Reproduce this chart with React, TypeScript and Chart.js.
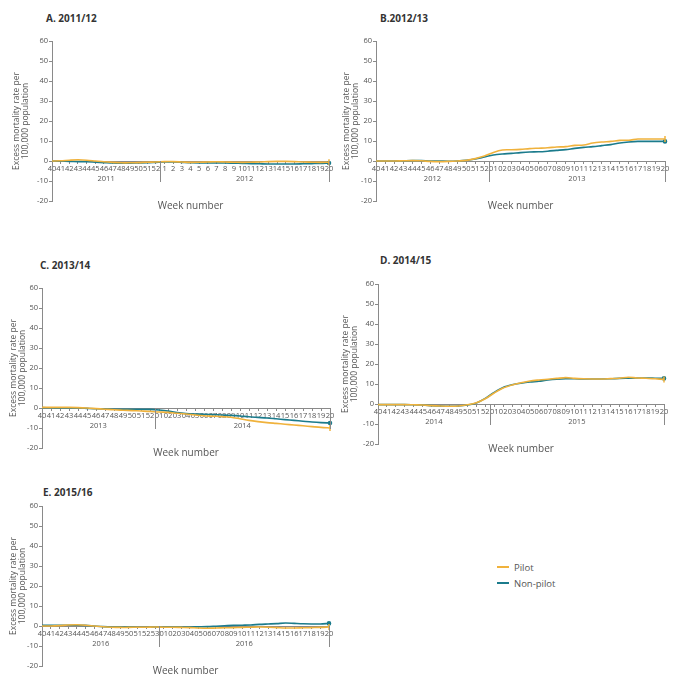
import React, { useEffect, useRef } from 'react';
import { Chart, registerables } from 'chart.js';
Chart.register(...registerables);

const PILOT_COLOR = '#F0B23C';
const NONPILOT_COLOR = '#1B7B8C';
const AXIS = '#8a8a8a';
const TXT = '#555555';
const FONT = '"Open Sans", "Liberation Sans", sans-serif';

const weeksA = ['40','41','42','43','44','45','46','47','48','49','50','51','52','1','2','3','4','5','6','7','8','9','10','11','12','13','14','15','16','17','18','19','20'];
const weeksB = ['40','41','42','43','44','45','46','47','48','49','50','51','52','01','02','03','04','05','06','07','08','09','10','11','12','13','14','15','16','17','18','19','20'];
const weeksC = ['40','41','42','43','44','45','46','47','48','49','50','51','52','01','02','03','04','05','06','07','08','09','10','11','12','13','14','15','16','17','18','19','20'];
const weeksD = ['40','41','42','43','44','45','46','47','48','49','50','51','52','01','02','03','04','05','06','07','08','09','10','11','12','13','14','15','16','17','18','19','20'];
const weeksE = ['40','41','42','43','44','45','46','47','48','49','50','51','52','53','01','02','03','04','05','06','07','08','09','10','11','12','13','14','15','16','17','18','19','20'];

const yearsA = ['2011', '2012'];
const yearsB = ['2012', '2013'];
const yearsC = ['2013', '2014'];
const yearsD = ['2014', '2015'];
const yearsE = ['2016', '2016'];

const pilotA = [0, 0.1, 0.4, 0.6, 0.4, 0, -0.4, -0.7, -0.9, -0.9, -0.8, -0.6, -0.5, -0.3, -0.3, -0.5, -0.7, -0.6, -0.5, -0.4, -0.5, -0.6, -0.7, -0.6, -0.5, -0.3, -0.2, -0.2, -0.3, -0.5, -0.6, -0.7, -0.6];
const nonPilotA = [0, -0.1, -0.2, -0.3, -0.4, -0.6, -0.8, -1, -1.1, -1.1, -1, -0.9, -0.7, -0.5, -0.5, -0.7, -0.9, -1, -1, -1, -1, -1.1, -1.2, -1.3, -1.4, -1.5, -1.5, -1.5, -1.5, -1.4, -1.3, -1.2, -1];

const pilotB = [0, 0, 0, 0.1, 0.2, 0.1, -0.2, -0.3, -0.2, 0, 0.3, 1.2, 2.5, 4.3, 5.5, 5.6, 5.8, 6.2, 6.4, 6.6, 7, 7.2, 7.8, 8, 9, 9.5, 9.8, 10.3, 10.4, 11, 11, 11, 11];
const nonPilotB = [0, 0, 0, 0.1, 0.2, 0.2, 0, 0, -0.1, 0, 0.3, 1, 2, 3, 3.5, 3.8, 4.2, 4.5, 4.6, 4.9, 5.3, 5.7, 6.3, 6.8, 7.2, 7.7, 8.2, 9, 9.5, 9.8, 9.8, 9.8, 9.8];

const pilotC = [0.3, 0.3, 0.3, 0.3, 0.2, 0, -0.3, -0.6, -0.9, -1.1, -1.3, -1.5, -1.7, -2, -2.2, -2.6, -3, -3.5, -3.9, -4.1, -4.3, -4.6, -5.4, -6.2, -6.8, -7.3, -7.7, -8.1, -8.5, -8.9, -9.3, -9.7, -10];
const nonPilotC = [0.2, 0.1, 0, 0, 0, -0.2, -0.4, -0.5, -0.6, -0.6, -0.6, -0.6, -0.7, -1, -1.5, -2.3, -2.8, -3, -3.1, -3.3, -3.5, -3.7, -4, -4.4, -4.7, -5, -5.4, -5.8, -6.2, -6.6, -7, -7.3, -7.5];

const pilotD = [-0.3, -0.3, -0.3, -0.3, -0.4, -0.5, -0.8, -1, -1.1, -1, -0.4, 0.6, 2.6, 5.5, 8, 9.5, 10.6, 11.5, 12, 12.4, 12.8, 13.2, 12.8, 12.6, 12.5, 12.5, 12.7, 12.9, 13.4, 13, 12.9, 12.6, 12.3];
const nonPilotD = [-0.3, -0.3, -0.3, -0.3, -0.4, -0.5, -0.8, -1, -1.1, -1, -0.5, 0.5, 2.8, 5.8, 8.3, 9.6, 10.4, 11, 11.4, 12, 12.4, 12.6, 12.6, 12.5, 12.5, 12.5, 12.6, 12.8, 12.9, 13, 13, 12.9, 12.8];

const pilotE = [0, 0, 0.2, 0.5, 0.6, 0.4, 0, -0.4, -0.6, -0.7, -0.7, -0.6, -0.6, -0.5, -0.6, -0.6, -0.7, -0.8, -1, -1.1, -1, -0.9, -0.8, -0.7, -0.6, -0.5, -0.6, -0.8, -1, -1, -0.9, -0.8, -0.7, -0.5];
const nonPilotE = [0.3, 0.3, 0.3, 0.4, 0.4, 0.3, 0, -0.3, -0.5, -0.5, -0.5, -0.6, -0.6, -0.5, -0.5, -0.5, -0.5, -0.5, -0.4, -0.3, -0.1, 0.1, 0.3, 0.4, 0.5, 0.8, 1, 1.2, 1.5, 1.3, 1.1, 1, 1, 1.3];

const titles = ['A. 2011/12', 'B.2012/13', 'C. 2013/14', 'D. 2014/15', 'E. 2015/16'];
const yTitle = ['Excess mortality rate per', '100,000 population'];
const seriesNames = ['Pilot', 'Non-pilot'];

type PanelProps = {
  canvasLeft: number; chartTop: number; chartBottom: number; axisX: number; chartRight: number;
  weeks: string[]; years: string[]; pilot: number[]; nonPilot: number[];
};

function Panel(p: PanelProps) {
  const ref = useRef<HTMLCanvasElement>(null);
  const padTop = 12, padBottom = 54, padRight = 10;
  const width = p.chartRight - p.canvasLeft + padRight;
  const height = p.chartBottom - p.chartTop + padTop + padBottom;
  const yWidth = p.axisX - p.canvasLeft;

  useEffect(() => {
    if (!ref.current) return;
    const splitIdx = p.weeks.findIndex(w => w === '1' || w === '01');
    const yearPlugin = {
      id: 'yearGroups',
      afterDraw(chart: any) {
        const ctx = chart.ctx;
        const xs = chart.scales.x;
        const ys = chart.scales.y;
        const y0 = ys.getPixelForValue(0);
        const left = chart.chartArea.left;
        const right = chart.chartArea.right;
        const sep = (xs.getPixelForValue(splitIdx - 1) + xs.getPixelForValue(splitIdx)) / 2;
        ctx.save();
        ctx.strokeStyle = AXIS;
        ctx.lineWidth = 1;
        ctx.beginPath();
        [sep, right].forEach((x: number) => {
          const xx = Math.round(x) + 0.5;
          ctx.moveTo(xx, y0);
          ctx.lineTo(xx, y0 + 21);
        });
        ctx.stroke();
        ctx.fillStyle = TXT;
        ctx.textAlign = 'center';
        ctx.textBaseline = 'middle';
        ctx.font = `7.5px ${FONT}`;
        ctx.fillText(p.years[0], (left + sep) / 2, y0 + 18);
        ctx.fillText(p.years[1], (sep + right) / 2, y0 + 18);
        ctx.font = `10px ${FONT}`;
        ctx.fillText('Week number', (left + right) / 2, y0 + 45);
        ctx.restore();
      },
    };
    const n = p.weeks.length;
    const chart = new Chart(ref.current, {
      type: 'line',
      data: {
        labels: p.weeks,
        datasets: [
          {
            label: seriesNames[0],
            data: p.pilot,
            borderColor: PILOT_COLOR,
            backgroundColor: PILOT_COLOR,
            borderWidth: 1.6,
            tension: 0.3,
            pointStyle: 'line',
            rotation: 90,
            pointRadius: (c: any) => (c.dataIndex === n - 1 ? 3 : 0),
            pointBorderWidth: 1.5,
          },
          {
            label: seriesNames[1],
            data: p.nonPilot,
            borderColor: NONPILOT_COLOR,
            backgroundColor: NONPILOT_COLOR,
            borderWidth: 1.6,
            tension: 0.3,
            pointRadius: (c: any) => (c.dataIndex === n - 1 ? 1.5 : 0),
          },
        ],
      },
      options: {
        animation: false,
        responsive: false,
        devicePixelRatio: 1,
        layout: { padding: { left: 0, top: padTop, right: padRight, bottom: padBottom } },
        plugins: { legend: { display: false }, tooltip: { enabled: false }, title: { display: false } },
        scales: {
          x: {
            type: 'category',
            position: { y: 0 } as any,
            offset: false,
            grid: { drawOnChartArea: false, drawTicks: true, tickLength: 2, color: AXIS },
            border: { color: AXIS },
            ticks: { autoSkip: false, maxRotation: 0, minRotation: 0, padding: 1, color: TXT, font: { family: FONT, size: 7.5 } },
            afterFit: (s: any) => { s.paddingLeft = 0; s.paddingRight = 0; },
          },
          y: {
            min: -20,
            max: 60,
            ticks: { stepSize: 10, padding: 1, color: TXT, font: { family: FONT, size: 7.5 } },
            grid: { drawOnChartArea: false, drawTicks: true, tickLength: 3, color: AXIS },
            border: { color: AXIS },
            title: {
              display: true,
              text: yTitle,
              color: TXT,
              font: { family: FONT, size: 8.5, lineHeight: 0.95 },
              padding: { top: 3, bottom: 0 },
            },
            afterFit: (s: any) => { s.width = yWidth; s.paddingTop = 0; s.paddingBottom = 0; },
          },
        },
      },
      plugins: [yearPlugin],
    } as any);
    return () => chart.destroy();
  }, []);

  return (
    <canvas
      ref={ref}
      width={width}
      height={height}
      style={{ position: 'absolute', left: p.canvasLeft, top: p.chartTop - padTop, width, height }}
    />
  );
}

function Title({ text, x, y }: { text: string; x: number; y: number }) {
  return (
    <div style={{ position: 'absolute', left: x, top: y - 7, fontFamily: FONT, fontWeight: 700, fontSize: 10, lineHeight: '14px', color: '#333', whiteSpace: 'nowrap' }}>
      {text}
    </div>
  );
}

export default function App() {
  return (
    <div style={{ position: 'absolute', left: 0, top: 0, width: 676, height: 682, background: '#fff', overflow: 'hidden' }}>
      <Title text={titles[0]} x={46} y={18} />
      <Title text={titles[1]} x={380} y={18} />
      <Title text={titles[2]} x={40} y={265} />
      <Title text={titles[3]} x={380} y={260} />
      <Title text={titles[4]} x={43} y={492} />
      <Panel canvasLeft={10} chartTop={41} chartBottom={201} axisX={52} chartRight={329} weeks={weeksA} years={yearsA} pilot={pilotA} nonPilot={nonPilotA} />
      <Panel canvasLeft={340} chartTop={41} chartBottom={201} axisX={376} chartRight={665} weeks={weeksB} years={yearsB} pilot={pilotB} nonPilot={nonPilotB} />
      <Panel canvasLeft={7} chartTop={288} chartBottom={448} axisX={42} chartRight={330} weeks={weeksC} years={yearsC} pilot={pilotC} nonPilot={nonPilotC} />
      <Panel canvasLeft={339} chartTop={284} chartBottom={444} axisX={378} chartRight={664} weeks={weeksD} years={yearsD} pilot={pilotD} nonPilot={nonPilotD} />
      <Panel canvasLeft={7} chartTop={506} chartBottom={666} axisX={42} chartRight={329} weeks={weeksE} years={yearsE} pilot={pilotE} nonPilot={nonPilotE} />
      <div style={{ position: 'absolute', left: 497, top: 559, fontFamily: FONT, fontSize: 9.5, color: TXT }}>
        {[PILOT_COLOR, NONPILOT_COLOR].map((c, i) => (
          <div key={i} style={{ display: 'flex', alignItems: 'center', height: 16 }}>
            <span style={{ display: 'inline-block', width: 12, height: 2, background: c, marginRight: 5 }} />
            <span>{seriesNames[i]}</span>
          </div>
        ))}
      </div>
    </div>
  );
}
